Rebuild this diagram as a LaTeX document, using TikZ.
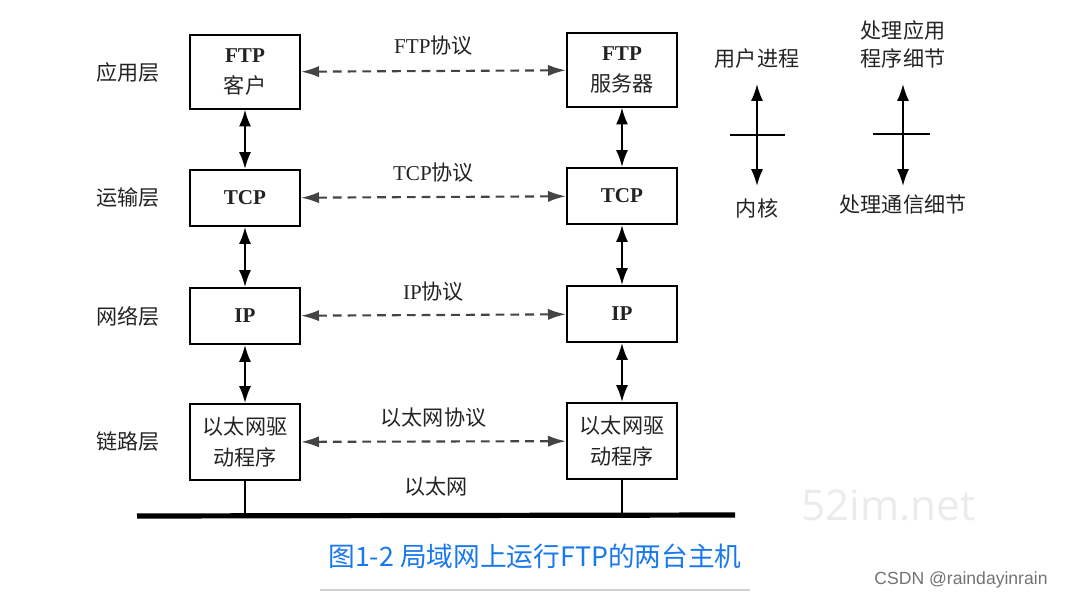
\documentclass[tikz,border=0pt]{standalone}
\usepackage{fontspec}
\setmainfont{Liberation Serif}
\newfontfamily\cjk{Noto Sans CJK SC}
\newfontfamily\markfont{Liberation Sans}
\newfontfamily\wmfont{Open Sans}
\usetikzlibrary{positioning, arrows.meta}
\definecolor{ink}{RGB}{35,35,35}
\definecolor{capblue}{RGB}{25,120,235}
\tikzstyle{layer}=[rectangle, draw=black, line width=1.4pt, minimum width=2.75cm, align=center, text=ink, font=\cjk\fontsize{15}{22}\selectfont]
\tikzstyle{lbl}=[text=ink, align=center, font=\cjk\fontsize{15}{20}\selectfont]
\tikzstyle{peer}=[{Latex[length=4.5mm,width=2.8mm]}-{Latex[length=4.5mm,width=2.8mm]}, dash pattern=on 2.2mm off 1.5mm, line width=1.5pt, draw=ink!85]
\tikzstyle{updown}=[{Latex[length=4.2mm,width=3mm]}-{Latex[length=4.2mm,width=3mm]}, line width=1.4pt]

\begin{document}
\begin{tikzpicture}[x=0.025cm, y=-0.025cm]
            \useasboundingbox (0,0) rectangle (1066,599);
            %Client stack
            \node[layer, minimum height=1.83cm](ftpc) at (245,72){{\rmfamily\bfseries FTP}\\客户};
            \node[layer, minimum height=1.4cm](tcpc) at (245,198){{\rmfamily\bfseries TCP}};
            \node[layer, minimum height=1.4cm](ipc) at (245,316){{\rmfamily\bfseries IP}};
            \node[layer, minimum height=1.9cm](ethc) at (245,442){以太网驱\\动程序};
            %Server stack
            \node[layer, minimum height=1.83cm](ftps) at (622,70){{\rmfamily\bfseries FTP}\\服务器};
            \node[layer, minimum height=1.4cm](tcps) at (622,196){{\rmfamily\bfseries TCP}};
            \node[layer, minimum height=1.4cm](ips) at (622,314){{\rmfamily\bfseries IP}};
            \node[layer, minimum height=1.9cm](eths) at (622,441){以太网驱\\动程序};

            %Layer names
            \node[lbl, left = 0.6cm of ftpc](app){应用层};
            \node[lbl, left = 0.6cm of tcpc](trans){运输层};
            \node[lbl, left = 0.6cm of ipc](net){网络层};
            \node[lbl, left = 0.6cm of ethc](link){链路层};

            %Inside each host
            \draw[updown] (ftpc) -- (tcpc);
            \draw[updown] (tcpc) -- (ipc);
            \draw[updown] (ipc) -- (ethc);
            \draw[updown] (ftps) -- (tcps);
            \draw[updown] (tcps) -- (ips);
            \draw[updown] (ips) -- (eths);

            %Peer protocols
            \draw[peer] (ftpc) -- node[lbl, above = 2.5mm]{{\rmfamily FTP}协议} (ftps);
            \draw[peer] (tcpc) -- node[lbl, above = 2.3mm]{{\rmfamily TCP}协议} (tcps);
            \draw[peer] (ipc) -- node[lbl, above = 2mm]{{\rmfamily IP}协议} (ips);
            \draw[peer] (ethc) -- node[lbl, above = 2.2mm]{以太网协议} (eths);

            %Ethernet cable
            \coordinate (busl) at (137,516);
            \coordinate (busr) at (735,515);
            \draw[line width=1.3mm] (busl) -- node[lbl, above = 3mm]{以太网} (busr);
            \draw[line width=1pt] (ethc.south) -- (ethc.south |- busl);
            \draw[line width=1pt] (eths.south) -- (eths.south |- busr);

            %User / kernel
            \coordinate (u1) at (757,84);
            \coordinate (k1) at (757,186);
            \draw[updown] (u1) -- (k1);
            \draw[line width=1.2pt] (730,135) -- (785,135);
            \node[lbl, above = 2.8mm of u1](user){用户进程};
            \node[lbl, below = 2mm of k1](kern){内核};

            \coordinate (u2) at (903,84);
            \coordinate (k2) at (903,186);
            \draw[updown] (u2) -- (k2);
            \draw[line width=1.2pt] (873,134) -- (930,134);
            \node[lbl, above = 2.6mm of u2, font=\cjk\fontsize{15}{20}\selectfont](appd){处理应用\\程序细节};
            \node[lbl, below = 1mm of k2](commd){处理通信细节};

            %Caption and marks
            \node[text=capblue, font=\cjk\fontsize{19}{22}\selectfont](cap) at (535,556){图1-2 局域网上运行FTP的两台主机};
            \draw[black!18, line width=1.5pt] (320,590) -- (750,590);
            \node[text=black!8, font=\wmfont\fontsize{30}{34}\selectfont](wm) at (888,505){52im.net};
            \node[text=black!55, font=\markfont\fontsize{12.5}{14}\selectfont](csdn) at (961,580){CSDN @raindayinrain};
\end{tikzpicture}
\end{document}
